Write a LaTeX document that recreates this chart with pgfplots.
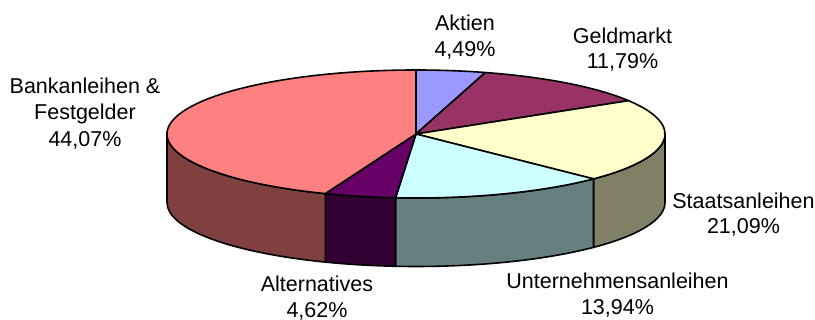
\documentclass[border=0pt]{standalone}
\usepackage{pgfplots}
\pgfplotsset{compat=1.18}
\usepackage{fontspec}
\setmainfont{Liberation Sans}
\definecolor{cAkt}{HTML}{9999FF}
\definecolor{cGeld}{HTML}{993366}
\definecolor{cStaat}{HTML}{FFFFCC}
\definecolor{cStaatS}{HTML}{808066}
\definecolor{cUnt}{HTML}{CCFFFF}
\definecolor{cUntS}{HTML}{668080}
\definecolor{cAlt}{HTML}{660066}
\definecolor{cAltS}{HTML}{330033}
\definecolor{cBank}{HTML}{FF8080}
\definecolor{cBankS}{HTML}{804040}
% shares in percent
\def\vAkt{4.49}
\def\vGeld{11.79}
\def\vStaat{21.09}
\def\vUnt{13.94}
\def\vAlt{4.62}
\def\vBank{44.07}
\pgfmathsetmacro\aA{90}
\pgfmathsetmacro\aB{\aA-3.6*\vAkt}
\pgfmathsetmacro\aC{\aB-3.6*\vGeld}
\pgfmathsetmacro\aD{\aC-3.6*\vStaat}
\pgfmathsetmacro\aE{\aD-3.6*\vUnt}
\pgfmathsetmacro\aF{\aE-3.6*\vAlt}
\pgfmathsetmacro\aG{\aF-3.6*\vBank}
\newcommand\topslice[3]{\filldraw[fill=#3,draw=black,line width=1.6pt,line join=round]
  (axis cs:416,186) -- ++(#1:249pt and 64pt) arc[start angle=#1,end angle=#2,x radius=249pt,y radius=64pt] -- cycle;}
\newcommand\sideslice[3]{\filldraw[fill=#3,draw=black,line width=1.6pt,line join=round]
  (axis cs:416,186) ++(#1:249pt and 64pt) arc[start angle=#1,end angle=#2,x radius=249pt,y radius=64pt]
  -- ++(0pt,-68.5pt) arc[start angle=#2,end angle=#1,x radius=249pt,y radius=64pt] -- cycle;}
\begin{document}
\begin{tikzpicture}
\begin{axis}[scale only axis, width=815pt, height=320pt,
  xmin=0, xmax=815, ymin=0, ymax=320, hide axis, clip=false]
\addplot[draw=none] coordinates {(0,0) (815,320)};
% side walls (front half)
\sideslice{0}{\aD}{cStaatS}
\sideslice{\aD}{\aE}{cUntS}
\sideslice{\aE}{\aF}{cAltS}
\sideslice{\aF}{-180}{cBankS}
% top faces
\topslice{\aA}{\aB}{cAkt}
\topslice{\aB}{\aC}{cGeld}
\topslice{\aC}{\aD}{cStaat}
\topslice{\aD}{\aE}{cUnt}
\topslice{\aE}{\aF}{cAlt}
\topslice{\aF}{\aG}{cBank}
% labels
\begin{scope}[every node/.style={anchor=base, inner sep=0pt, font=\fontsize{21.5}{26}\selectfont}]
\node at (axis cs:465,289.3) {Aktien};
\node at (axis cs:465,263.8) {4,49\%};
\node at (axis cs:622.5,276.7) {Geldmarkt};
\node at (axis cs:622.5,251.7) {11,79\%};
\node at (axis cs:85,226) {Bankanleihen \&};
\node at (axis cs:85,200) {Festgelder};
\node at (axis cs:85,173.3) {44,07\%};
\node at (axis cs:743.5,111.7) {Staatsanleihen};
\node at (axis cs:743.5,86.7) {21,09\%};
\node at (axis cs:617.5,31.7) {Unternehmensanleihen};
\node at (axis cs:617.5,5.5) {13,94\%};
\node at (axis cs:317,28.3) {Alternatives};
\node at (axis cs:317,2.5) {4,62\%};
\end{scope}
\end{axis}
\pgfresetboundingbox
\path (0,0) rectangle (815pt,320pt);
\end{tikzpicture}
\end{document}
